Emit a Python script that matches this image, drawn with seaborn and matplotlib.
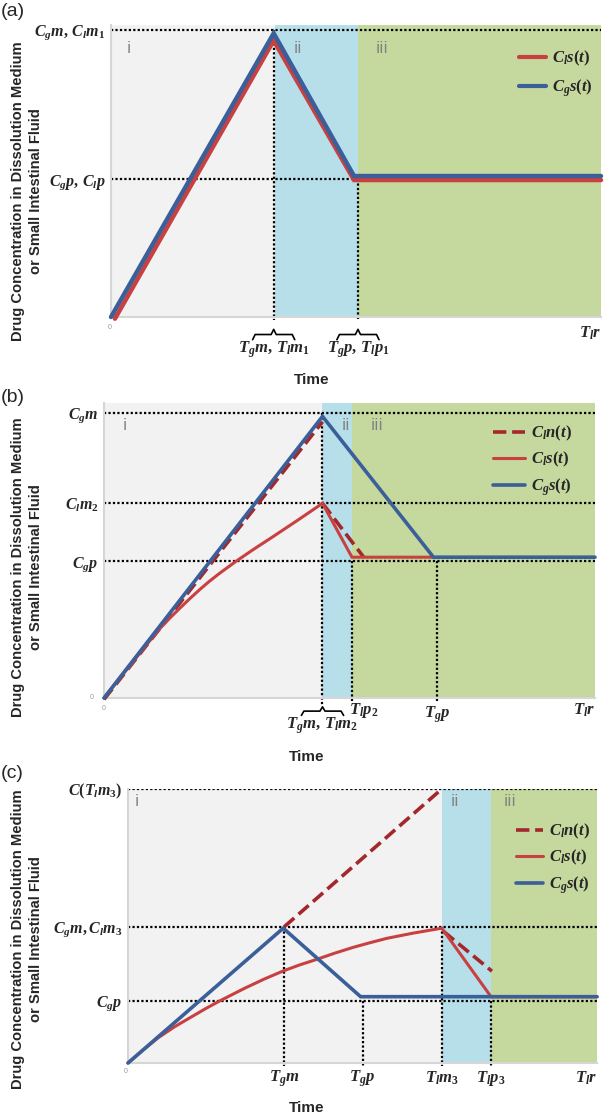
import numpy as np
import pandas as pd
import seaborn as sns
import matplotlib.pyplot as plt
from matplotlib.lines import Line2D

sns.set_style('white')
plt.rcParams['mathtext.fontset'] = 'custom'
plt.rcParams['mathtext.it'] = 'Liberation Serif:italic:bold'
plt.rcParams['mathtext.rm'] = 'Liberation Serif:bold'
plt.rcParams['mathtext.bf'] = 'Liberation Serif:bold'
plt.rcParams['font.family'] = ['Liberation Sans', 'DejaVu Sans']

# ---- panel (a) ----
a_x_gs = [0, 33.2, 49.6, 100]
a_y_gs = [0, 98.8, 49.1, 49.1]
a_x_ls = [0.8, 33.2, 49.6, 100]
a_y_ls = [-0.6, 96.3, 47.7, 47.7]
a_regions = [0, 33.5, 50.4, 100]
a_ylevels = [100, 48]
a_ylabels = [r'$C_g m,\, C_l m_1$', r'$C_g p,\, C_l p$']

# ---- panel (b) ----
b_x_gs = [0, 44.5, 67.1, 100]
b_y_gs = [0, 98.8, 49.4, 49.4]
b_x_ls = [0, 3, 6, 9, 11.4, 13.5, 15.5, 17.5, 19.6, 21.5, 23.5, 27.0, 30.5, 34.5,
          37.2, 39.9, 42.2, 44.5, 50.5, 67.1]
b_y_ls = [0, 6.5, 12.9, 19.4, 24.4, 28.2, 31.6, 34.9, 38.2, 41.0, 43.7, 48.1, 52.2, 56.7,
          59.8, 62.9, 65.6, 68.3, 49.4, 49.4]
b_x_ln_rise = [0, 44.5]
b_y_ln_rise = [-0.5, 96.9]
b_x_ln_fall = [44.5, 52.9]
b_y_ln_fall = [68.3, 49.4]
b_regions = [0, 44.5, 50.5, 100]
b_ylevels = [100, 68.5, 48]
b_ylabels = [r'$C_g m$', r'$C_l m_2$', r'$C_g p$']

# ---- panel (c) ----
c_x_gs = [0, 33.1, 49.6, 100]
c_y_gs = [0, 49.2, 24.2, 24.2]
c_x_ls = [0, 3.2, 6.5, 10, 13.6, 16.6, 19.6, 24.9, 29.0, 33.1, 36.6, 40.2, 44.1, 48.0,
          51.6, 55.2, 60.8, 66.9, 77.4, 100]
c_y_ls = [0, 4.7, 9.3, 13.3, 16.9, 19.9, 22.7, 27.3, 30.6, 33.6, 35.8, 37.8, 40.1, 42.2,
          43.9, 45.5, 47.4, 49.2, 24.2, 24.2]
c_x_ln_rise = [33.3, 66.9]
c_y_ln_rise = [49.7, 100]
c_x_ln_fall = [67.3, 77.6]
c_y_ln_fall = [48, 33.5]
c_regions = [0, 66.9, 77.4, 100]
c_ylevels = [100, 49.7, 22.7]
c_ylabels = [r'$C(T_l m_3)$', r'$C_g m, C_l m_3$', r'$C_g p$']
c_xticks = [33.3, 50.0, 66.9, 77.4]
c_xlabels = [r'$T_g m$', r'$T_g p$', r'$T_l m_3$', r'$T_l p_3$']

BLUE = '#3b5f99'
RED = '#c8403f'
DRED = '#a3282c'
GRAY_BG = '#f2f2f2'
BLUE_BG = '#b7dfea'
GREEN_BG = '#c5d89e'

W, H = 609, 1115
fig = plt.figure(figsize=(W / 100, H / 100), dpi=100)


def make_ax(left, right, top, bottom):
    return fig.add_axes([left / W, 1 - bottom / H, (right - left) / W, (bottom - top) / H])


def setup(ax, regions, ytop, levels, labels):
    ax.axvspan(regions[0], regions[1], color=GRAY_BG, lw=0, zorder=0)
    ax.axvspan(regions[1], regions[2], color=BLUE_BG, lw=0, zorder=0)
    ax.axvspan(regions[2], regions[3], color=GREEN_BG, lw=0, zorder=0)
    ax.set_xlim(0, 100)
    ax.set_ylim(0, ytop)
    for s in ['top', 'right']:
        ax.spines[s].set_visible(False)
    for s in ['left', 'bottom']:
        ax.spines[s].set_color('#d6d6d6')
        ax.spines[s].set_linewidth(1.5)
    ax.set_xticks([])
    ax.set_yticks(levels)
    ax.set_yticklabels(labels, fontsize=11.5)
    ax.tick_params(axis='y', length=0, pad=4)
    for lv in levels:
        ax.plot([0, 100], [lv, lv], color='black', ls=(0, (1, 1)), lw=1.6, zorder=2)


def vdot(ax, x, y0, y1):
    ax.plot([x, x], [y0, y1], color='black', ls=(0, (1, 1)), lw=1.6, zorder=2, clip_on=False)


def roman(ax, xs, y):
    for x, t in zip(xs, ['i', 'ii', 'iii']):
        ax.text(x, y, t, color='#808080', fontsize=11, ha='left', va='center', family='DejaVu Sans')


def brace(ax, xc, half, y0, d):
    s = half * 0.12
    xs = [xc - half, xc - half + s, xc - s, xc, xc + s, xc + half - s, xc + half]
    ys = [y0 - d, y0, y0, y0 + d, y0, y0, y0 - d]
    ax.plot(xs, ys, color='black', lw=1.2, clip_on=False)


def line(ax, xs, ys, color, lw, ls='-', z=3):
    df = pd.DataFrame({'x': xs, 'y': ys})
    sns.lineplot(data=df, x='x', y='y', ax=ax, color=color, lw=lw, linestyle=ls,
                 sort=False, estimator=None, zorder=z)
    ax.lines[-1].set_clip_on(False)
    ax.lines[-1].set_solid_joinstyle('miter')
    ax.set_xlabel('')
    ax.set_ylabel('')


def legend(ax, entries, x, y, handlelen, spacing):
    handles = [Line2D([], [], color=c, lw=lw, ls=ls) for c, lw, ls, _ in entries]
    ax.legend(handles, [e[3] for e in entries], loc='upper left',
              bbox_to_anchor=(x / W, 1 - y / H), bbox_transform=fig.transFigure,
              frameon=False, fontsize=12, handlelength=handlelen, handletextpad=0.4,
              labelspacing=spacing, borderpad=0, borderaxespad=0)


ylab = 'Drug Concentration in Dissolution Medium\nor Small Intestinal Fluid'


def side_text(panel, y_panel, y_time, y_ylab, x_time):
    fig.text(x_time / W, 1 - y_time / H, 'Time', ha='center', va='center', fontsize=11,
             fontweight='bold')
    fig.text(0.002, 1 - y_panel / H, panel, ha='left', va='center', fontsize=14)
    fig.text(27 / W, 1 - y_ylab / H, ylab, rotation=90, ha='center', va='center',
             fontsize=10.6, fontweight='bold', multialignment='center', linespacing=1.3)


# ---------------- (a) ----------------
ax = make_ax(111, 601, 25, 317)
setup(ax, a_regions, 101.7, a_ylevels, a_ylabels)
vdot(ax, a_x_gs[1], 100, -1)
vdot(ax, a_regions[2], 48, -1)
line(ax, a_x_ls, a_y_ls, RED, 3.2)
line(ax, a_x_gs, a_y_gs, BLUE, 3.2)
roman(ax, [3.2, 37.3, 54.0], 93.6)
brace(ax, a_x_gs[1], 4.3, -6.1, 1.8)
brace(ax, a_regions[2], 4.3, -6.1, 1.8)
ax.text(a_x_gs[1], -11.3, r'$T_g m,\, T_l m_1$', ha='center', va='center', fontsize=12, clip_on=False)
ax.text(a_regions[2], -11.3, r'$T_g p,\, T_l p_1$', ha='center', va='center', fontsize=12, clip_on=False)
ax.text(100, -5.6, r'$T_l r$', ha='right', va='center', fontsize=12, clip_on=False)
ax.text(-0.3, -3.8, '0', ha='center', va='center', fontsize=5, color='#999999')
legend(ax, [(RED, 3, '-', r'$C_l s(t)$'), (BLUE, 3, '-', r'$C_g s(t)$')], 519, 49, 1.6, 0.55)
side_text('(a)', 11, 380, 191, 312)

# ---------------- (b) ----------------
ax = make_ax(104, 595, 403, 698)
setup(ax, b_regions, 103.5, b_ylevels, b_ylabels)
vdot(ax, b_x_gs[1], 100, -2.5)
vdot(ax, b_regions[2], 48, -1)
vdot(ax, 67.9, 48, -1)
line(ax, b_x_ln_rise, b_y_ln_rise, DRED, 2.6, '--', 3)
line(ax, b_x_ln_fall, b_y_ln_fall, DRED, 2.6, '--', 3)
line(ax, b_x_ls, b_y_ls, RED, 2.2, '-', 4)
line(ax, b_x_gs, b_y_gs, BLUE, 2.6, '-', 5)
roman(ax, [3.7, 48.3, 54.3], 95.7)
brace(ax, b_x_gs[1], 4.3, -4.6, 1.5)
ax.text(b_x_gs[1], -9.6, r'$T_g m,\, T_l m_2$', ha='center', va='center', fontsize=12, clip_on=False)
ax.text(b_regions[2] - 0.7, -4.4, r'$T_l p_2$', ha='left', va='center', fontsize=12, clip_on=False)
ax.text(67.9, -5.8, r'$T_g p$', ha='center', va='center', fontsize=12, clip_on=False)
ax.text(100, -4.4, r'$T_l r$', ha='right', va='center', fontsize=12, clip_on=False)
ax.text(-2.5, 0.3, '0', ha='center', va='center', fontsize=5, color='#999999')
ax.text(0, -3.7, '0', ha='center', va='center', fontsize=5, color='#999999')
legend(ax, [(DRED, 2.6, '--', r'$C_l n(t)$'), (RED, 2.2, '-', r'$C_l s(t)$'),
            (BLUE, 2.6, '-', r'$C_g s(t)$')], 493, 424, 1.9, 0.42)
side_text('(b)', 397, 757, 567, 307)

# ---------------- (c) ----------------
ax = make_ax(128, 597, 789, 1063)
setup(ax, c_regions, 100, c_ylevels, c_ylabels)
vdot(ax, c_xticks[0], c_ylevels[1], -1)
vdot(ax, c_xticks[1], c_ylevels[2], -1)
vdot(ax, c_xticks[2], c_ylevels[1], -1)
vdot(ax, c_xticks[3], c_ylevels[2], -1)
line(ax, c_x_ln_rise, c_y_ln_rise, DRED, 2.6, '--', 3)
line(ax, c_x_ln_fall, c_y_ln_fall, DRED, 2.6, '--', 3)
line(ax, c_x_ls, c_y_ls, RED, 2.2, '-', 4)
line(ax, c_x_gs, c_y_gs, BLUE, 2.6, '-', 5)
roman(ax, [1.4, 68.7, 80.0], 95.5)
for xt, lab in zip(c_xticks, c_xlabels):
    ax.text(xt, -5.6, lab, ha='center', va='center', fontsize=12, clip_on=False)
ax.text(100, -5.6, r'$T_l r$', ha='right', va='center', fontsize=12, clip_on=False)
ax.text(-0.5, -3.0, '0', ha='center', va='center', fontsize=5, color='#999999')
legend(ax, [(DRED, 2.6, '--', r'$C_l n(t)$'), (RED, 2.2, '-', r'$C_l s(t)$'),
            (BLUE, 2.6, '-', r'$C_g s(t)$')], 516, 822, 1.6, 0.42)
side_text('(c)', 773, 1108, 939, 307)

fig.savefig('out.png', dpi=100)
